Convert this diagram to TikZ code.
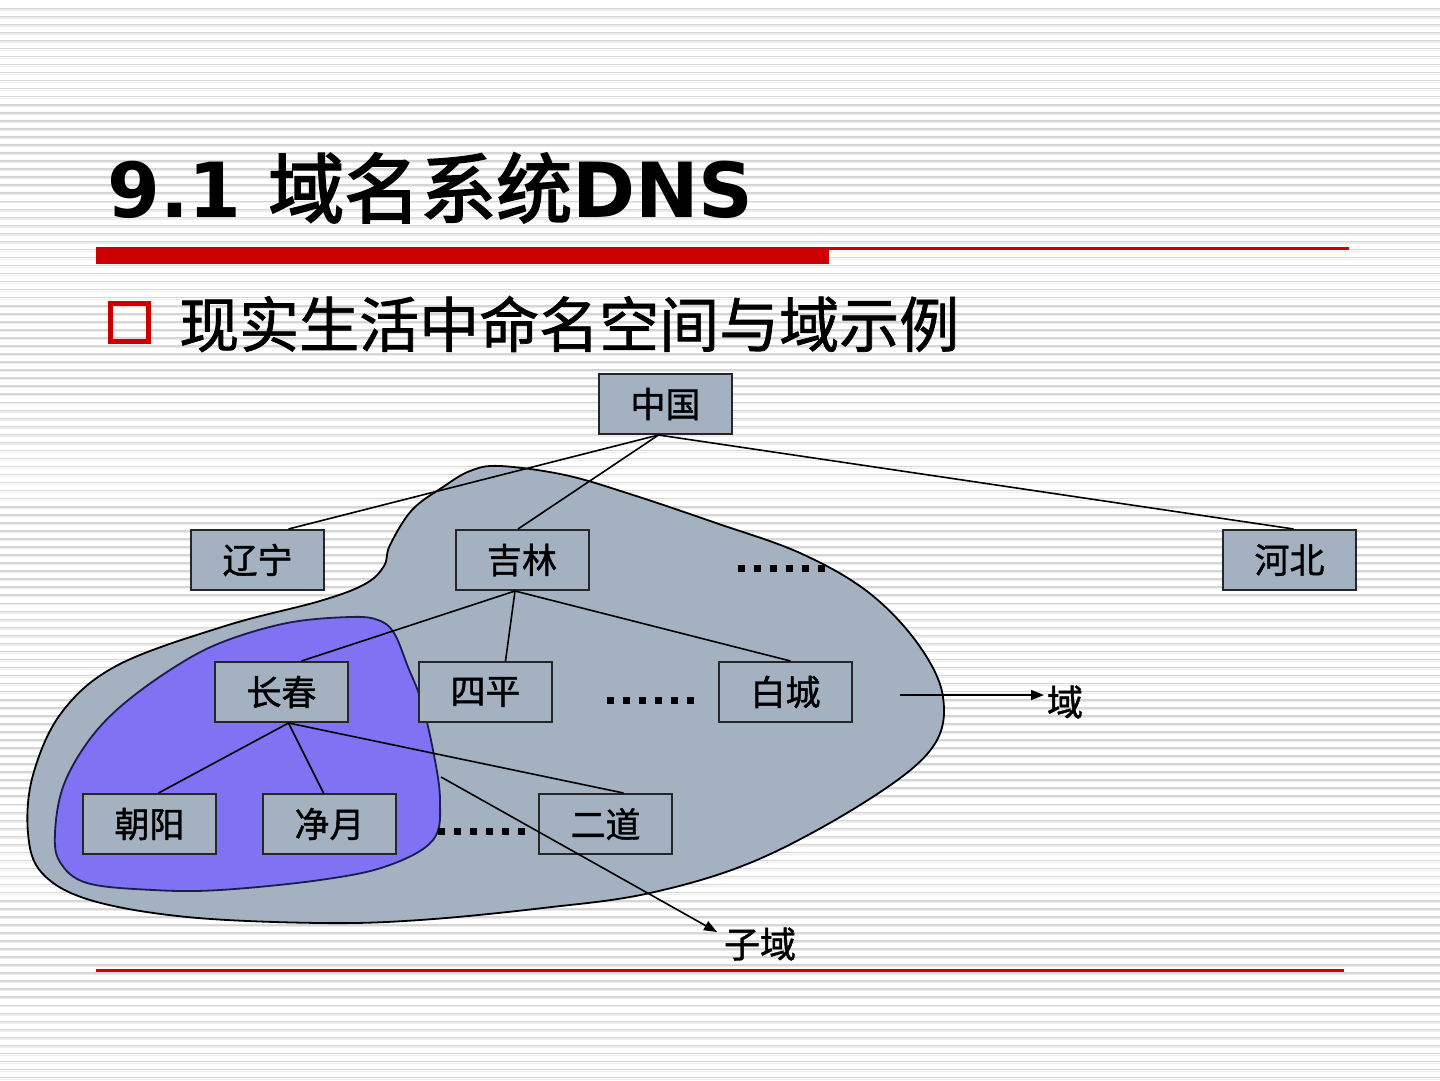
\documentclass[tikz,border=0pt]{standalone}
\usepackage{fontspec}
\setmainfont{DejaVu Sans}
\newfontfamily\cjk[FakeBold=1.2]{Noto Sans CJK SC}
\newfontfamily\cjkt[FakeBold=2.5]{Noto Sans CJK SC}
\usetikzlibrary{arrows.meta}
\definecolor{boxfill}{HTML}{A3B1C1}
\definecolor{purp}{HTML}{8072F2}
\definecolor{navyline}{HTML}{1C1C50}
\definecolor{redl}{HTML}{CC0000}
\definecolor{stripeA}{HTML}{D6D6D6}
\definecolor{stripeB}{HTML}{ECECEC}
\tikzset{
  stripe/.style={draw=stripeA, line width=1.5bp},
  stripelight/.style={draw=stripeB, line width=1.2bp},
  region/.style={draw=black, line width=1.8bp, fill=boxfill},
  subregion/.style={draw=navyline, line width=1.8bp, fill=purp},
  placebox/.style={draw=black!85, line width=2bp, fill=boxfill, minimum width=133bp, minimum height=60bp, inner sep=0pt, font=\cjk\fontsize{35bp}{35bp}\selectfont},
  link/.style={draw=black, line width=1.6bp},
  pointer/.style={link, -{Triangle[length=13bp,width=10bp]}},
  ellip/.style={draw=black, line width=7bp, dash pattern=on 7bp off 9bp},
  tag/.style={inner sep=0pt, font=\cjk\fontsize{36bp}{36bp}\selectfont},
  redrule/.style={draw=redl, line width=3bp}
}
\begin{document}
\begin{tikzpicture}[x=1bp, y=-1bp]
\useasboundingbox (0,0) rectangle (1440,1080);
\fill[white] (0,0) rectangle (1440,1080);
% background stripes
\foreach \k in {0,...,133} {
  \draw[stripe] (0,{8.3+8.04*\k}) -- (1440,{8.3+8.04*\k});
  \draw[stripelight] (0,{9.9+8.04*\k}) -- (1440,{9.9+8.04*\k});
}
% title
\node[anchor=base west, inner sep=0pt] (title) at (107,217)
  {\fontsize{76bp}{76bp}\selectfont\bfseries 9.1 {\cjkt\mdseries 域名系统}DNS};
\fill[redl] (96,247) rectangle (829,264);
\draw[redrule] (829,248.5) -- (1349,248.5);
% subtitle
\node[draw=redl, line width=5bp, minimum size=38bp, inner sep=0pt] (bullet) at (129.5,322) {};
\node[anchor=west, inner sep=0pt, font=\cjk\fontsize{60bp}{60bp}\selectfont] (sub) at (179,324) {现实生活中命名空间与域示例};
% domain region
\draw[region] plot[smooth cycle, tension=0.6] coordinates {
 (500,466) (565,475) (630,494) (716,523) (800,553) (868,592) (918,644) (943,697)
 (932,748) (868,800) (757,860) (650,893) (543,908) (420,920) (320,923) (187,917)
 (90,900) (42,873) (28,833) (33,775) (62,712) (118,665) (225,626) (320,601)
 (365,584) (384,566) (390,545) (412,510) (443,487) (470,471)};
% subdomain region
\draw[subregion] plot[smooth cycle, tension=0.6] coordinates {
 (350,617) (378,620) (394,633) (408,667) (421,700) (433,750) (440,800) (433,840)
 (387,866) (320,880) (220,890) (153,890) (87,883) (60,862) (55,833) (63,787)
 (87,743) (120,707) (170,670) (220,643) (287,623)};
% boxes
\node[placebox] (zg) at (665.5,404) {中国};
\node[placebox] (ln) at (257.5,560) {辽宁};
\node[placebox] (jl) at (522,560) {吉林};
\node[placebox] (hb) at (1289.5,560) {河北};
\node[placebox] (cc) at (281.5,692) {长春};
\node[placebox] (sp) at (485.5,692) {四平};
\node[placebox] (bc) at (785.5,692) {白城};
\node[placebox] (cy) at (149.5,824) {朝阳};
\node[placebox] (jy) at (329.5,824) {净月};
\node[placebox] (ed) at (605.5,824) {二道};
% connectors
\draw[link] ([xshift=-7bp]zg.south) -- ([xshift=31bp]ln.north);
\draw[link] ([xshift=-7bp]zg.south) -- ([xshift=-4bp]jl.north);
\draw[link] ([xshift=-7bp]zg.south) -- ([xshift=4bp]hb.north);
\draw[link] ([xshift=-7bp]jl.south) -- ([xshift=20bp]cc.north);
\draw[link] ([xshift=-7bp]jl.south) -- ([xshift=20bp]sp.north);
\draw[link] ([xshift=-7bp]jl.south) -- ([xshift=5bp]bc.north);
\draw[link] ([xshift=7bp]cc.south) -- ([xshift=9bp]cy.north);
\draw[link] ([xshift=7bp]cc.south) -- ([xshift=-6bp]jy.north);
\draw[link] ([xshift=7bp]cc.south) -- ([xshift=18bp]ed.north);
% ellipses
\draw[ellip] (738,568) -- (825,568);
\draw[ellip] (607,700) -- (694,700);
\draw[ellip] (438,831) -- (525,831);
% labels and pointers
\node[tag] (yu) at (1065,702) {域};
\node[tag] (zy) at (760,944) {子域};
\coordinate (yS) at (900,695);
\coordinate (yE) at (1044,695);
\coordinate (zS) at (441,777);
\coordinate (zE) at (717,932);
\draw[pointer] (yS) -- (yE);
\draw[pointer] (zS) -- (zE);
% bottom rule
\draw[redrule] (96,970) -- (1344,970);
\end{tikzpicture}
\end{document}
